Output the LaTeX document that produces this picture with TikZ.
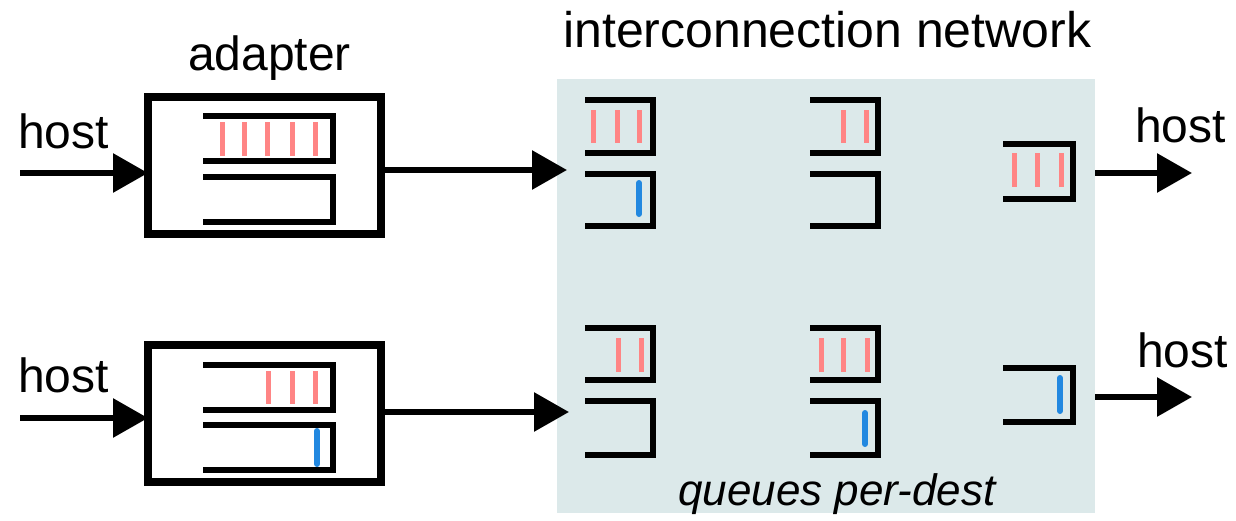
\documentclass[tikz,border=0pt]{standalone}
\usepackage{fontspec}
\setmainfont{Liberation Sans}
\usetikzlibrary{arrows.meta}
\definecolor{netgray}{RGB}{220,233,234}
\definecolor{pktred}{RGB}{255,133,133}
\definecolor{pktblue}{RGB}{34,136,224}

% open-ended queue: left end x1, closed end x2, top y1, bottom y2
\newcommand\drawqueue[4]{\draw[qline] (#1,#3) -- (#2,#3) -- (#2,#4) -- (#1,#4);}
% packets inside a queue: list of x positions, style, top, bottom
\newcommand\drawpkts[4]{\foreach \px in {#1} \draw[#2] (\px,#3) -- (\px,#4);}

\begin{document}
\begin{tikzpicture}[x=1pt,y=-1pt,
  lbl/.style={anchor=base west,inner sep=0pt,font=\fontsize{48}{56}\selectfont},
  titlelbl/.style={anchor=base west,inner sep=0pt,font=\fontsize{50}{58}\selectfont},
  notelbl/.style={anchor=base west,inner sep=0pt,font=\fontsize{44}{52}\selectfont\itshape},
  adapterbox/.style={draw,line width=8pt,minimum width=233pt,minimum height=137pt,inner sep=0pt,outer sep=0pt},
  netbox/.style={fill=netgray,minimum width=538pt,minimum height=434pt,inner sep=0pt,outer sep=0pt},
  qline/.style={line width=6pt},
  redpkt/.style={pktred,line width=5pt},
  bluepkt/.style={pktblue,line width=6pt,line cap=round},
  arr/.style={line width=6pt,-{Triangle[length=35pt,width=38pt]}},
]
\fill[white] (0,0) rectangle (1236,520);
\useasboundingbox (0,0) rectangle (1236,520);

% interconnection network
\node[netbox] (net) at (826,296) {};
\node[titlelbl] (nettitle) at (563,47) {interconnection network};
\node[notelbl] (note) at (678,505) {queues per-dest};

% adapters
\node[adapterbox] (a1) at (264.5,165.5) {};
\node[adapterbox] (a2) at (264.5,413) {};
\node[lbl] (adlbl) at (188,70) {adapter};

% adapter 1 queues
\drawqueue{203}{333}{116}{161}
\drawpkts{222,244,267,292,315}{redpkt}{122}{156}
\drawqueue{203}{333}{177}{222}

% adapter 2 queues
\drawqueue{203}{333}{365}{410}
\drawpkts{268,292,315}{redpkt}{371}{404}
\drawqueue{203}{333}{425}{470}
\drawpkts{317}{bluepkt}{431}{464}

% network: first switch column
\drawqueue{585}{653}{100}{153}
\drawpkts{593,617,639}{redpkt}{110}{143}
\drawqueue{585}{653}{174}{226}
\drawpkts{639}{bluepkt}{183}{214}
\drawqueue{585}{653}{328}{380}
\drawpkts{618,641}{redpkt}{338}{372}
\drawqueue{585}{653}{401}{455}

% network: second switch column
\drawqueue{810}{878}{100}{153}
\drawpkts{843,866}{redpkt}{110}{143}
\drawqueue{810}{878}{174}{226}
\drawqueue{810}{878}{328}{380}
\drawpkts{821,843,867}{redpkt}{338}{372}
\drawqueue{810}{878}{401}{455}
\drawpkts{865}{bluepkt}{413}{444}

% network: output queues
\drawqueue{1003}{1073}{144}{199}
\drawpkts{1014,1037,1061}{redpkt}{153}{187}
\drawqueue{1003}{1073}{368}{422}
\drawpkts{1060}{bluepkt}{378}{411}

% host labels
\node[lbl] (hin1) at (18,148) {host};
\node[lbl] (hin2) at (18,392) {host};
\node[lbl] (hout1) at (1135,142) {host};
\node[lbl] (hout2) at (1137,367) {host};

% connectors
\coordinate (in1) at (20,173);
\coordinate (in2) at (20,418);
\coordinate (o1) at (567,170);
\coordinate (o2) at (569,412);
\coordinate (d1) at (1192,173);
\coordinate (d2) at (1192,397);
\draw[arr] (in1) -- (in1 -| a1.west);
\draw[arr] (in2) -- (in2 -| a2.west);
\draw[arr] (o1 -| a1.east) -- (o1);
\draw[arr] (o2 -| a2.east) -- (o2);
\draw[arr] (d1 -| net.east) -- (d1);
\draw[arr] (d2 -| net.east) -- (d2);
\end{tikzpicture}
\end{document}
